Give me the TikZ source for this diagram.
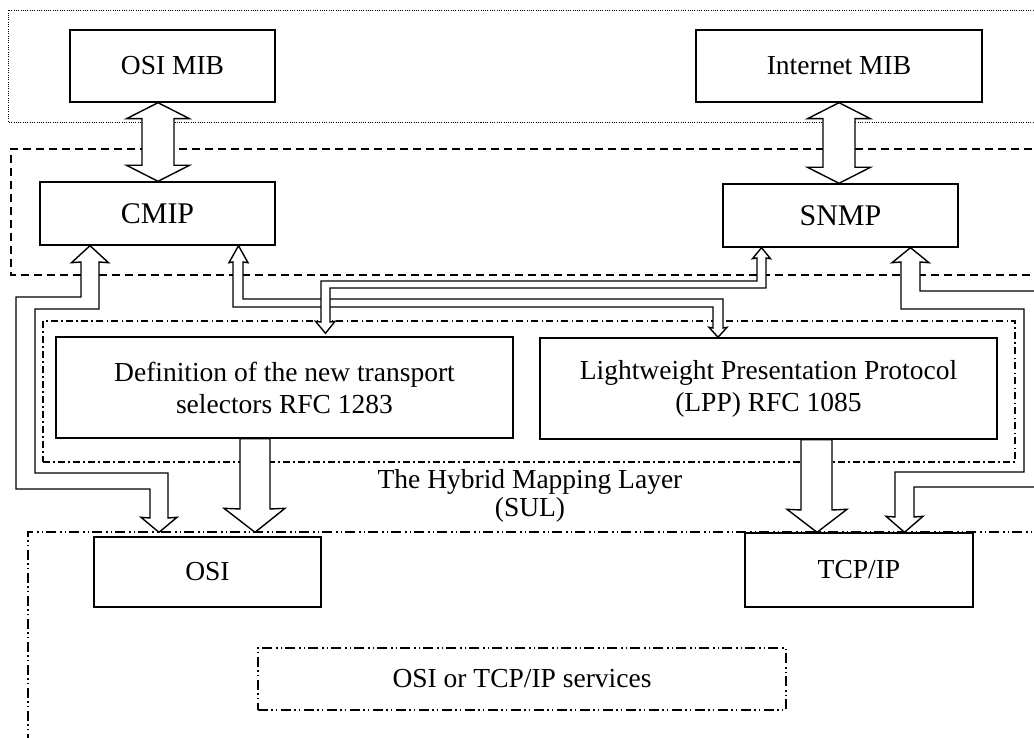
\documentclass[tikz,border=0pt]{standalone}
\usepackage{fontspec}
\setmainfont{Liberation Serif}
\usetikzlibrary{calc}

% hollow double-headed block arrow between two vertically stacked boxes
\newcommand\twowayarrow[2]{%
  \draw[blk] (#1) -- ([shift={(31.5,16)}]#1) -- ([shift={(16,16)}]#1)
    -- ([shift={(16,-16)}]#2) -- ([shift={(31.5,-16)}]#2) -- (#2)
    -- ([shift={(-31.5,-16)}]#2) -- ([shift={(-16,-16)}]#2)
    -- ([shift={(-16,16)}]#1) -- ([shift={(-31.5,16)}]#1) -- cycle;}

\begin{document}
\begin{tikzpicture}[x=1pt,y=-1pt,
  txt/.style={font=\fontsize{27.5}{32}\selectfont},
  box/.style={txt,draw,line width=1.4pt,fill=white,inner sep=0pt,align=center},
  bigbox/.style={box,font=\fontsize{30}{34}\selectfont},
  blk/.style={draw,line width=1.4pt,fill=white,line join=miter},
  dotframe/.style={line width=0.9pt,dash pattern=on 1pt off 1.3pt},
  dashframe/.style={line width=1.2pt,dash pattern=on 8pt off 5pt},
  dotdashframe/.style={line width=1.1pt,dash pattern=on 7pt off 3pt on 1.5pt off 3.5pt},
  dotdotframe/.style={line width=1.1pt,dash pattern=on 10pt off 3pt on 1.5pt off 3pt on 1.5pt off 4pt},
]
\useasboundingbox (0,0) rectangle (1034,738);
\clip (0,0) rectangle (1034,738);

% layer frames
\draw[dotframe] (1045,10) -- (8,10) -- (8,122) -- (1045,122);
\draw[dashframe] (1045,149) -- (11,149) -- (11,275) -- (1045,275);
\node[dotdashframe,draw,inner sep=0pt,minimum width=972pt,minimum height=141pt] (hml) at (529,391.5) {};
\draw[dotdotframe] (1045,532) -- (28,532) -- (28,745);
\node[txt,align=center,font=\fontsize{27.5}{28}\selectfont] (hmllabel) at (530,496) {The Hybrid Mapping Layer\\(SUL)};

% boxes
\node[box,minimum width=205pt,minimum height=72pt] (osimib) at (172.5,66) {OSI MIB};
\node[box,minimum width=286pt,minimum height=72pt] (intmib) at (839,66) {Internet MIB};
\node[bigbox,minimum width=235pt,minimum height=63pt] (cmip) at (157.5,213.5) {CMIP};
\node[bigbox,minimum width=235pt,minimum height=63pt] (snmp) at (840.5,215.5) {SNMP};
\node[box,minimum width=457pt,minimum height=101pt] (def) at (284.5,387.5) {Definition of the new transport\\selectors RFC 1283};
\node[box,minimum width=457pt,minimum height=101pt] (lpp) at (768.5,388.5) {Lightweight Presentation Protocol\\(LPP) RFC 1085};
\node[box,minimum width=227pt,minimum height=70pt] (osi) at (207.5,572) {OSI};
\node[box,minimum width=228pt,minimum height=74pt] (tcp) at (859,570) {TCP/IP};
\node[txt,dotdotframe,draw,inner sep=0pt,minimum width=528pt,minimum height=62pt] (svc) at (522,679) {OSI or TCP/IP services};

% MIB <-> protocol
\coordinate (a1) at (158,0 |- osimib.south);
\coordinate (a2) at (158,0 |- cmip.north);
\twowayarrow{a1}{a2}
\coordinate (a3) at (839,0 |- intmib.south);
\coordinate (a4) at (839,0 |- snmp.north);
\twowayarrow{a3}{a4}

% CMIP <-> LPP
\coordinate (b1) at (238.5,0 |- cmip.south);
\coordinate (b2) at (718,0 |- lpp.north);
\draw[blk] (b1) -- ([shift={(9.5,17)}]b1) -- (243,262) -- (243,299) -- (723,299) -- (723,328)
  -- ([shift={(9,-10)}]b2) -- (b2) -- ([shift={(-9,-10)}]b2) -- (713,328) -- (713,307)
  -- (233,307) -- (233,262) -- ([shift={(-9.5,17)}]b1) -- cycle;

% SNMP <-> transport selectors
\coordinate (c1) at (761.5,0 |- snmp.south);
\path (325.5,0 |- def.north) ++(0,-3) coordinate (c2);
\draw[blk] (c1) -- ([shift={(9,11)}]c1) -- (766,258) -- (766,288) -- (330,288) -- (330,322)
  -- ([shift={(9.5,-12)}]c2) -- (c2) -- ([shift={(-10,-12)}]c2) -- (321,322) -- (321,281)
  -- (757,281) -- (757,258) -- ([shift={(-9,11)}]c1) -- cycle;

% CMIP <-> OSI
\coordinate (d1) at (90,0 |- cmip.south);
\path (159,0 |- osi.north) ++(0,-4) coordinate (d2);
\draw[blk] (d1) -- ([shift={(18.5,17)}]d1) -- (99,262) -- (99,309) -- (35,309) -- (35,473)
  -- (168,473) -- (168,518) -- ([shift={(18,-15)}]d2) -- (d2) -- ([shift={(-18,-15)}]d2)
  -- (150,518) -- (150,489) -- (16,489) -- (16,297) -- (81,297) -- (81,262)
  -- ([shift={(-18.5,17)}]d1) -- cycle;

% SNMP <-> TCP/IP
\coordinate (e1) at (910.5,0 |- snmp.south);
\coordinate (e2) at (904.5,0 |- tcp.north);
\draw[blk] (e1) -- ([shift={(18.5,15)}]e1) -- (920,262) -- (920,291) -- (1045,291) -- (1045,487)
  -- (914,487) -- (914,517) -- ([shift={(18.5,-16)}]e2) -- (e2) -- ([shift={(-18.5,-16)}]e2)
  -- (895,517) -- (895,472) -- (1024,472) -- (1024,309) -- (901,309) -- (901,262)
  -- ([shift={(-18.5,15)}]e1) -- cycle;

% mapping layer -> stacks
\coordinate (f1) at (255,0 |- def.south);
\path (255,0 |- osi.north) ++(0,-4) coordinate (f2);
\draw[blk] ([shift={(-15,0)}]f1) -- (240,509) -- ([shift={(-31,-24)}]f2) -- (f2)
  -- ([shift={(30,-24)}]f2) -- (270,509) -- ([shift={(15,0)}]f1) -- cycle;
\coordinate (g1) at (816.5,0 |- lpp.south);
\coordinate (g2) at (817,0 |- tcp.north);
\draw[blk] ([shift={(-15.5,0)}]g1) -- (801,510) -- ([shift={(-30,-23)}]g2) -- (g2)
  -- ([shift={(30,-23)}]g2) -- (832,510) -- ([shift={(15.5,0)}]g1) -- cycle;
\end{tikzpicture}
\end{document}
